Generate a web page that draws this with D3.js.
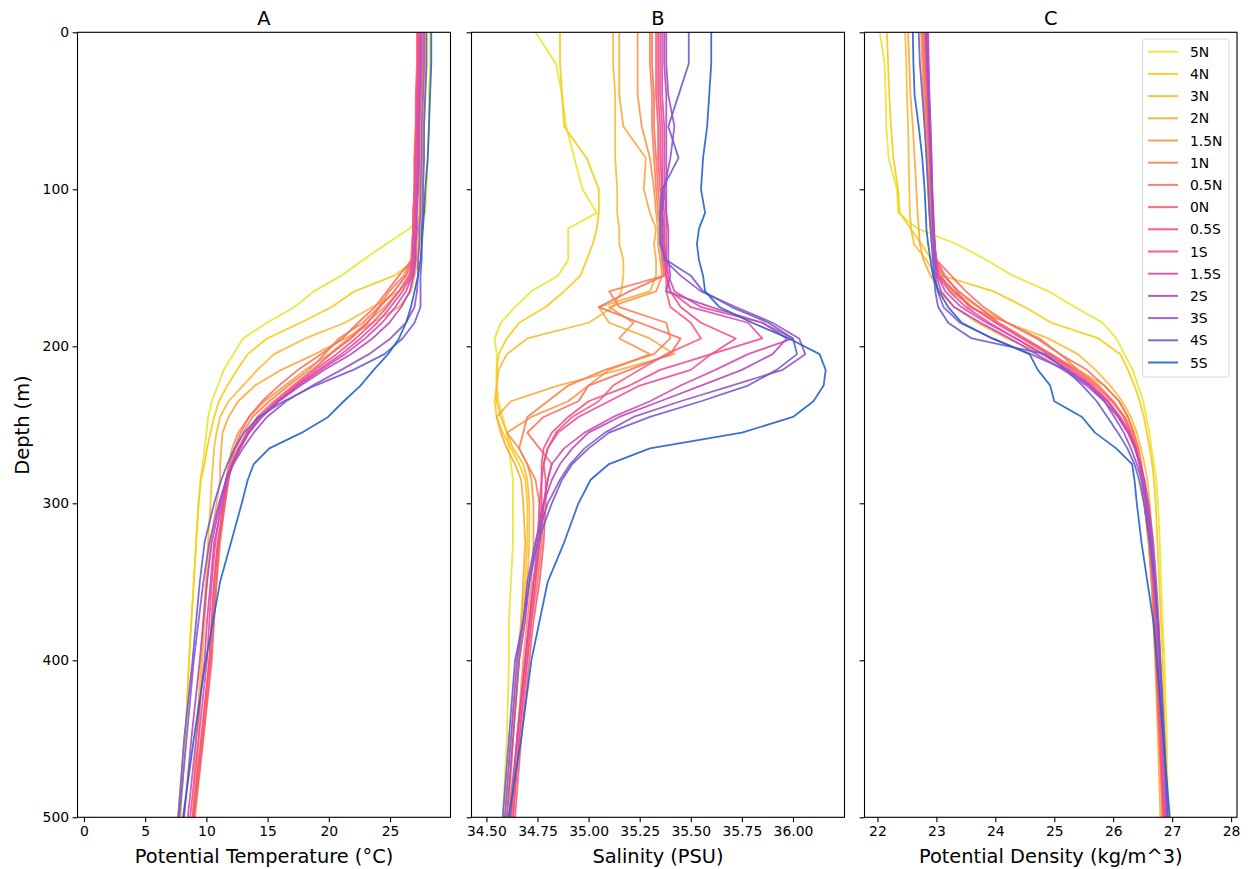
<!DOCTYPE html>
<html>
<head>
<meta charset="utf-8">
<script src="https://cdn.jsdelivr.net/npm/d3@7"></script>
<style>
  body { margin: 0; background: #fff; }
  text { font-family: "DejaVu Sans", sans-serif; fill: #000; }
</style>
</head>
<body>
<svg id="chart" width="1248" height="869"></svg>
<script>
// Depth levels (m) shared by every profile
const depth = [0,20,40,60,80,100,115,125,135,145,155,165,175,185,195,205,215,225,235,245,255,265,275,285,300,325,350,375,400,450,500];

// Stations, north to south
const stations = ["5N","4N","3N","2N","1.5N","1N","0.5N","0N","0.5S","1S","1.5S","2S","3S","4S","5S"];
const stationColors = ["#e8e62c","#f8cb14","#fbba32","#fca83c","#fd9547","#fc8152","#fb7060","#fa5d72","#f64e86","#ea4c9c","#d64bb0","#b949c0","#9853c9","#6b5dd0","#2563c9"];

// Potential temperature (°C), one row per station
const temperature = [
  [28.27,28.27,28.18,28.18,28.08,27.98,27.88,26.61,24.65,22.79,21.02,18.77,17.2,14.95,12.99,12.2,11.42,10.93,10.44,10.14,10.0,9.85,9.7,9.51,9.36,9.16,8.97,8.77,8.58,8.28,7.69],
  [27.98,27.98,27.88,27.78,27.78,27.69,27.69,27.59,27.39,27.1,25.33,22.1,20.24,17.69,14.95,13.38,12.5,11.71,11.03,10.63,10.34,10.05,9.85,9.56,9.36,9.16,8.97,8.77,8.58,8.28,7.89],
  [27.88,27.88,27.78,27.69,27.69,27.59,27.59,27.49,27.39,27.29,27.0,25.73,23.57,21.32,18.08,15.53,14.16,12.99,11.81,11.12,10.83,10.63,10.54,10.44,10.34,10.14,9.95,9.75,9.56,9.16,8.87],
  [27.69,27.69,27.59,27.49,27.49,27.39,27.39,27.29,27.2,27.1,27.0,26.71,25.73,23.57,21.32,18.87,16.12,13.97,12.59,11.81,11.32,11.22,11.12,11.12,10.83,10.34,10.05,9.85,9.65,9.36,8.97],
  [27.49,27.49,27.39,27.29,27.29,27.2,27.1,27.1,27.0,26.9,26.51,25.73,24.55,23.08,21.61,20.04,18.08,16.42,14.75,13.48,12.59,12.1,11.81,11.61,11.42,11.03,10.73,10.54,10.34,9.75,9.07],
  [27.39,27.39,27.29,27.2,27.1,27.0,26.9,26.9,26.8,26.71,26.12,24.94,24.06,22.79,20.82,19.65,18.38,16.71,15.14,13.77,12.99,12.4,12.01,11.81,11.52,11.12,10.83,10.54,10.34,9.65,8.97],
  [27.29,27.29,27.2,27.1,27.0,27.0,26.9,26.9,26.8,26.8,25.73,24.75,23.77,22.39,21.12,19.36,17.49,15.93,14.55,13.48,12.79,12.3,11.91,11.61,11.42,10.93,10.63,10.44,10.24,9.65,8.97],
  [27.2,27.2,27.1,27.1,27.0,27.0,26.9,26.9,26.9,26.8,26.31,25.33,24.16,23.18,21.8,20.14,18.67,17.1,15.53,14.16,13.28,12.59,12.1,11.81,11.52,11.03,10.83,10.63,10.44,9.75,8.97],
  [27.29,27.29,27.2,27.2,27.1,27.0,27.0,26.9,26.9,26.8,26.61,25.73,24.75,23.57,22.2,20.63,18.87,17.3,15.83,14.46,13.38,12.69,12.1,11.71,11.42,10.93,10.63,10.44,10.24,9.56,8.87],
  [27.39,27.39,27.29,27.2,27.2,27.1,27.0,27.0,26.9,26.9,26.71,26.02,25.04,23.96,22.59,21.02,19.16,17.4,15.73,14.36,13.38,12.69,12.1,11.61,11.22,10.73,10.44,10.24,10.05,9.36,8.67],
  [27.49,27.49,27.39,27.29,27.29,27.2,27.1,27.1,27.0,27.0,26.8,26.31,25.43,24.35,22.98,21.32,19.36,17.49,15.83,14.46,13.48,12.79,12.2,11.71,11.32,10.63,10.34,10.05,9.85,9.16,8.48],
  [27.59,27.59,27.49,27.39,27.39,27.29,27.2,27.2,27.1,27.1,26.9,26.61,25.92,24.94,23.57,21.8,19.65,17.69,15.93,14.55,13.48,12.69,12.1,11.61,11.12,10.44,10.05,9.75,9.46,8.77,8.18],
  [27.78,27.78,27.69,27.59,27.59,27.49,27.49,27.39,27.39,27.29,27.29,27.2,27.0,26.31,25.04,23.28,21.02,18.67,16.51,14.95,13.87,12.99,12.2,11.61,11.03,10.24,9.75,9.36,8.97,8.38,7.79],
  [27.98,27.98,27.88,27.78,27.78,27.69,27.69,27.59,27.59,27.59,27.49,27.49,27.49,27.0,26.02,24.55,22.0,18.87,16.32,14.26,13.08,12.3,11.71,11.22,10.63,9.85,9.46,9.16,8.87,8.18,7.69],
  [28.37,28.37,28.27,28.18,28.08,27.88,27.78,27.69,27.59,27.49,27.29,27.0,26.71,26.31,25.73,24.84,23.67,22.59,21.22,19.94,17.79,15.14,13.87,13.38,12.89,12.01,11.12,10.54,9.95,8.97,8.09]
];

// Salinity (PSU), one row per station
const salinity = [
  [34.74,34.84,34.87,34.89,34.93,34.97,35.04,34.90,34.90,34.90,34.85,34.72,34.64,34.57,34.54,34.55,34.55,34.55,34.56,34.58,34.60,34.61,34.62,34.63,34.63,34.63,34.62,34.61,34.61,34.60,34.58],
  [34.86,34.86,34.87,34.88,34.99,35.05,35.05,35.04,35.02,34.99,34.96,34.88,34.79,34.66,34.60,34.56,34.55,34.55,34.54,34.55,34.58,34.62,34.66,34.69,34.70,34.70,34.69,34.67,34.65,34.62,34.59],
  [35.12,35.12,35.13,35.13,35.13,35.14,35.14,35.15,35.15,35.17,35.17,35.16,35.12,35.00,34.70,34.60,34.56,34.55,34.55,34.57,34.60,34.63,34.68,34.70,34.71,34.71,34.70,34.68,34.66,34.63,34.60],
  [35.15,35.15,35.15,35.17,35.28,35.27,35.30,35.33,35.32,35.33,35.33,35.30,35.05,35.10,35.30,35.42,35.15,34.85,34.62,34.55,34.57,34.60,34.64,34.67,34.68,34.69,34.68,34.67,34.66,34.63,34.61],
  [35.24,35.24,35.24,35.26,35.30,35.32,35.33,35.34,35.34,35.35,35.36,35.33,35.10,35.22,35.15,35.30,35.10,35.00,34.90,34.72,34.60,34.66,34.70,34.72,34.73,34.73,34.72,34.70,34.68,34.65,34.62],
  [35.30,35.30,35.31,35.31,35.32,35.33,35.34,35.35,35.35,35.36,35.37,35.10,35.15,35.38,35.40,35.32,35.08,34.90,34.80,34.70,34.68,34.66,34.70,34.74,34.76,34.76,34.74,34.71,34.69,34.65,34.62],
  [35.31,35.31,35.32,35.32,35.33,35.34,35.35,35.35,35.36,35.36,35.37,35.20,35.05,35.25,35.45,35.40,35.20,35.00,34.95,34.78,34.70,34.76,34.82,34.80,34.78,34.77,34.75,34.72,34.70,34.66,34.63],
  [35.33,35.33,35.33,35.34,35.34,35.35,35.36,35.36,35.37,35.37,35.38,35.38,35.40,35.50,35.55,35.38,35.25,35.12,35.05,34.92,34.84,34.80,34.78,34.79,34.79,34.78,34.76,34.73,34.71,34.67,34.64],
  [35.34,35.34,35.34,35.35,35.35,35.36,35.36,35.37,35.37,35.37,35.38,35.40,35.45,35.55,35.72,35.60,35.35,35.20,35.00,34.90,34.82,34.78,34.77,34.77,34.77,34.76,34.74,34.72,34.70,34.66,34.63],
  [35.35,35.35,35.35,35.36,35.36,35.36,35.37,35.37,35.37,35.38,35.38,35.40,35.50,35.78,35.85,35.60,35.50,35.25,35.10,34.95,34.85,34.80,34.78,34.77,34.76,34.75,34.73,34.71,34.69,34.65,34.62],
  [35.36,35.36,35.36,35.37,35.37,35.37,35.38,35.38,35.38,35.38,35.39,35.42,35.55,35.85,36.00,35.78,35.62,35.45,35.30,35.12,34.98,34.88,34.82,34.80,34.78,34.76,34.73,34.71,34.69,34.65,34.61],
  [35.37,35.37,35.38,35.38,35.38,35.38,35.38,35.39,35.39,35.39,35.40,35.38,35.60,35.85,35.97,35.90,35.75,35.55,35.35,35.15,35.00,34.92,34.86,34.82,34.78,34.74,34.71,34.69,34.66,34.63,34.60],
  [35.38,35.38,35.39,35.42,35.40,35.37,35.36,35.36,35.36,35.37,35.45,35.55,35.72,35.90,36.03,36.06,35.95,35.70,35.45,35.22,35.08,34.98,34.91,34.86,34.80,34.74,34.70,34.68,34.65,34.62,34.59],
  [35.49,35.49,35.44,35.39,35.44,35.36,35.35,35.35,35.35,35.38,35.50,35.56,35.70,35.88,36.00,36.02,35.92,35.78,35.55,35.30,35.10,35.00,34.92,34.87,34.82,34.75,34.71,34.68,34.64,34.61,34.58],
  [35.60,35.60,35.59,35.58,35.56,35.55,35.57,35.54,35.53,35.54,35.56,35.57,35.64,35.80,35.98,36.13,36.16,36.15,36.10,36.00,35.75,35.30,35.10,35.01,34.95,34.88,34.80,34.76,34.72,34.67,34.61]
];

// Potential density (kg/m^3), one row per station
const density = [
  [22.04,22.12,22.14,22.15,22.19,22.33,22.35,22.68,23.35,23.85,24.30,24.90,25.35,25.82,26.05,26.19,26.33,26.42,26.51,26.56,26.61,26.65,26.69,26.73,26.76,26.79,26.81,26.84,26.87,26.91,26.93],
  [22.16,22.18,22.20,22.23,22.27,22.35,22.38,22.56,22.75,22.92,23.10,23.97,24.50,24.95,25.75,26.12,26.25,26.36,26.45,26.52,26.57,26.62,26.66,26.69,26.72,26.75,26.78,26.81,26.84,26.88,26.90],
  [22.47,22.49,22.50,22.52,22.53,22.54,22.55,22.57,22.62,22.83,23.00,23.30,23.70,24.20,24.90,25.40,25.70,25.95,26.15,26.30,26.40,26.47,26.53,26.58,26.62,26.67,26.70,26.73,26.76,26.80,26.83],
  [22.52,22.54,22.56,22.60,22.63,22.66,22.68,22.70,22.72,22.78,22.90,23.05,23.30,23.70,24.20,24.80,25.40,25.85,26.10,26.25,26.35,26.40,26.45,26.48,26.53,26.60,26.65,26.68,26.71,26.76,26.80],
  [22.74,22.76,22.78,22.80,22.84,22.86,22.88,22.90,22.92,22.96,23.08,23.25,23.60,24.05,24.50,24.95,25.40,25.75,26.00,26.20,26.33,26.40,26.45,26.49,26.54,26.61,26.66,26.70,26.73,26.79,26.84],
  [22.76,22.78,22.80,22.83,22.86,22.88,22.90,22.92,22.95,23.00,23.15,23.35,23.55,24.20,24.75,25.10,25.40,25.75,26.00,26.18,26.30,26.38,26.44,26.48,26.53,26.60,26.65,26.69,26.72,26.78,26.84],
  [22.78,22.80,22.82,22.85,22.88,22.90,22.92,22.94,22.96,23.00,23.25,23.50,23.80,24.20,24.70,25.10,25.55,25.85,26.10,26.25,26.35,26.43,26.48,26.52,26.56,26.63,26.68,26.71,26.74,26.80,26.85],
  [22.80,22.82,22.84,22.86,22.89,22.91,22.93,22.95,22.97,23.00,23.12,23.38,23.72,24.05,24.50,24.95,25.35,25.70,25.98,26.18,26.30,26.40,26.46,26.50,26.55,26.62,26.67,26.70,26.73,26.79,26.85],
  [22.82,22.84,22.86,22.88,22.90,22.92,22.93,22.95,22.97,23.00,23.05,23.30,23.60,24.00,24.45,24.90,25.30,25.65,25.92,26.12,26.28,26.38,26.45,26.50,26.56,26.63,26.68,26.72,26.75,26.81,26.86],
  [22.84,22.85,22.87,22.89,22.91,22.92,22.94,22.95,22.97,22.99,23.03,23.22,23.50,23.90,24.35,24.82,25.25,25.62,25.90,26.10,26.26,26.37,26.45,26.51,26.57,26.64,26.69,26.73,26.76,26.82,26.87],
  [22.85,22.86,22.88,22.90,22.91,22.93,22.94,22.96,22.97,22.99,23.02,23.15,23.42,23.85,24.35,24.80,25.22,25.60,25.90,26.10,26.26,26.37,26.45,26.52,26.58,26.66,26.71,26.75,26.78,26.84,26.89],
  [22.86,22.87,22.88,22.90,22.92,22.93,22.95,22.96,22.97,22.98,23.00,23.08,23.30,23.75,24.25,24.70,25.15,25.55,25.85,26.08,26.25,26.37,26.46,26.53,26.60,26.68,26.73,26.77,26.80,26.86,26.91],
  [22.82,22.84,22.86,22.88,22.90,22.92,22.93,22.94,22.95,22.96,22.98,23.02,23.12,23.40,23.95,24.60,25.20,25.60,25.85,26.02,26.18,26.30,26.40,26.48,26.56,26.65,26.71,26.76,26.80,26.87,26.93],
  [22.70,22.72,22.76,22.80,22.83,22.86,22.88,22.90,22.92,22.94,22.96,22.98,23.03,23.20,23.60,24.85,25.20,25.48,25.72,25.90,26.08,26.24,26.36,26.44,26.52,26.62,26.70,26.75,26.79,26.86,26.92],
  [22.60,22.61,22.63,22.70,22.76,22.80,22.82,22.83,22.86,22.90,22.94,23.04,23.20,23.43,23.95,24.58,24.72,24.93,25.00,25.47,25.69,26.05,26.32,26.36,26.40,26.48,26.58,26.68,26.74,26.85,26.96]
];

// Axis ticks
const depthTicks = [0,100,200,300,400,500];
const tempTicks = [0,5,10,15,20,25];
const salTicks = [34.50,34.75,35.00,35.25,35.50,35.75,36.00];
const densTicks = [22,23,24,25,26,27,28];

const svg = d3.select("#chart");
const plotTop = 32.3, plotBottom = 817.3;
const y = d3.scaleLinear().domain([0, 500]).range([plotTop, plotBottom]);

const panels = [
  { title: "A", x0: 77.5, x1: 450.5, domain: [-0.53, 29.94], ticks: tempTicks, fmt: d3.format("d"),
    label: "Potential Temperature (°C)", rows: temperature, yLabels: true },
  { title: "B", x0: 471.5, x1: 844.5, domain: [34.427, 36.252], ticks: salTicks, fmt: d3.format(".2f"),
    label: "Salinity (PSU)", rows: salinity, yLabels: false },
  { title: "C", x0: 864.5, x1: 1237, domain: [21.78, 28.1], ticks: densTicks, fmt: d3.format("d"),
    label: "Potential Density (kg/m^3)", rows: density, yLabels: false }
];

const defs = svg.append("defs");

panels.forEach((p, pi) => {
  const x = d3.scaleLinear().domain(p.domain).range([p.x0, p.x1]);
  const clipId = "clip" + pi;
  defs.append("clipPath").attr("id", clipId)
    .append("rect").attr("x", p.x0).attr("y", plotTop)
    .attr("width", p.x1 - p.x0).attr("height", plotBottom - plotTop);

  const line = d3.line().x(d => x(d[0])).y(d => y(d[1]));
  const g = svg.append("g").attr("clip-path", `url(#${clipId})`);
  p.rows.forEach((vals, si) => {
    const pts = vals.map((v, i) => [v, depth[i]]);
    g.append("path")
      .datum(pts)
      .attr("d", line)
      .attr("fill", "none")
      .attr("stroke", stationColors[si])
      .attr("stroke-width", 1.8)
      .attr("stroke-opacity", 0.9)
      .attr("stroke-linejoin", "round");
  });

  // bottom axis
  const xa = svg.append("g")
    .attr("transform", `translate(0,${plotBottom})`)
    .call(d3.axisBottom(x).tickValues(p.ticks).tickFormat(p.fmt).tickSize(4.9).tickPadding(3.5));
  xa.select(".domain").remove();
  xa.selectAll("line").attr("stroke", "#000").attr("stroke-width", 1.1);
  xa.selectAll("text").style("font-size", "13.9px").attr("fill", "#000");

  // left axis
  const ya = svg.append("g")
    .attr("transform", `translate(${p.x0},0)`)
    .call(d3.axisLeft(y).tickValues(depthTicks).tickFormat(p.yLabels ? d3.format("d") : "").tickSize(4.9).tickPadding(3.5));
  ya.select(".domain").remove();
  ya.selectAll("line").attr("stroke", "#000").attr("stroke-width", 1.1);
  ya.selectAll("text").style("font-size", "13.9px").attr("fill", "#000");

  // frame
  svg.append("rect")
    .attr("x", p.x0).attr("y", plotTop)
    .attr("width", p.x1 - p.x0).attr("height", plotBottom - plotTop)
    .attr("fill", "none").attr("stroke", "#000").attr("stroke-width", 1.1);

  // title
  svg.append("text")
    .attr("x", (p.x0 + p.x1) / 2).attr("y", 25)
    .attr("text-anchor", "middle")
    .style("font-size", "19.4px")
    .text(p.title);

  // x label
  svg.append("text")
    .attr("x", (p.x0 + p.x1) / 2).attr("y", 863)
    .attr("text-anchor", "middle")
    .style("font-size", "19.4px")
    .text(p.label);

  // legend inside the density panel
  if (pi === 2) {
    const lx = 1142.5, ly = 39, lw = 86.5, lh = 338;
    const lg = svg.append("g");
    lg.append("rect")
      .attr("x", lx).attr("y", ly).attr("width", lw).attr("height", lh)
      .attr("rx", 3).attr("fill", "#fff").attr("fill-opacity", 0.8)
      .attr("stroke", "#d6d6d6").attr("stroke-width", 1);
    stations.forEach((s, si) => {
      const cy = 51.7 + si * 22.2;
      lg.append("line")
        .attr("x1", lx + 5.5).attr("x2", lx + 35.5)
        .attr("y1", cy).attr("y2", cy)
        .attr("stroke", stationColors[si]).attr("stroke-width", 2).attr("stroke-opacity", 0.9);
      lg.append("text")
        .attr("x", lx + 47.5).attr("y", cy + 5)
        .style("font-size", "13.9px")
        .text(s);
    });
  }
});

// shared depth label
svg.append("text")
  .attr("transform", "translate(29,425) rotate(-90)")
  .attr("text-anchor", "middle")
  .style("font-size", "19.4px")
  .text("Depth (m)");
</script>
</body>
</html>
